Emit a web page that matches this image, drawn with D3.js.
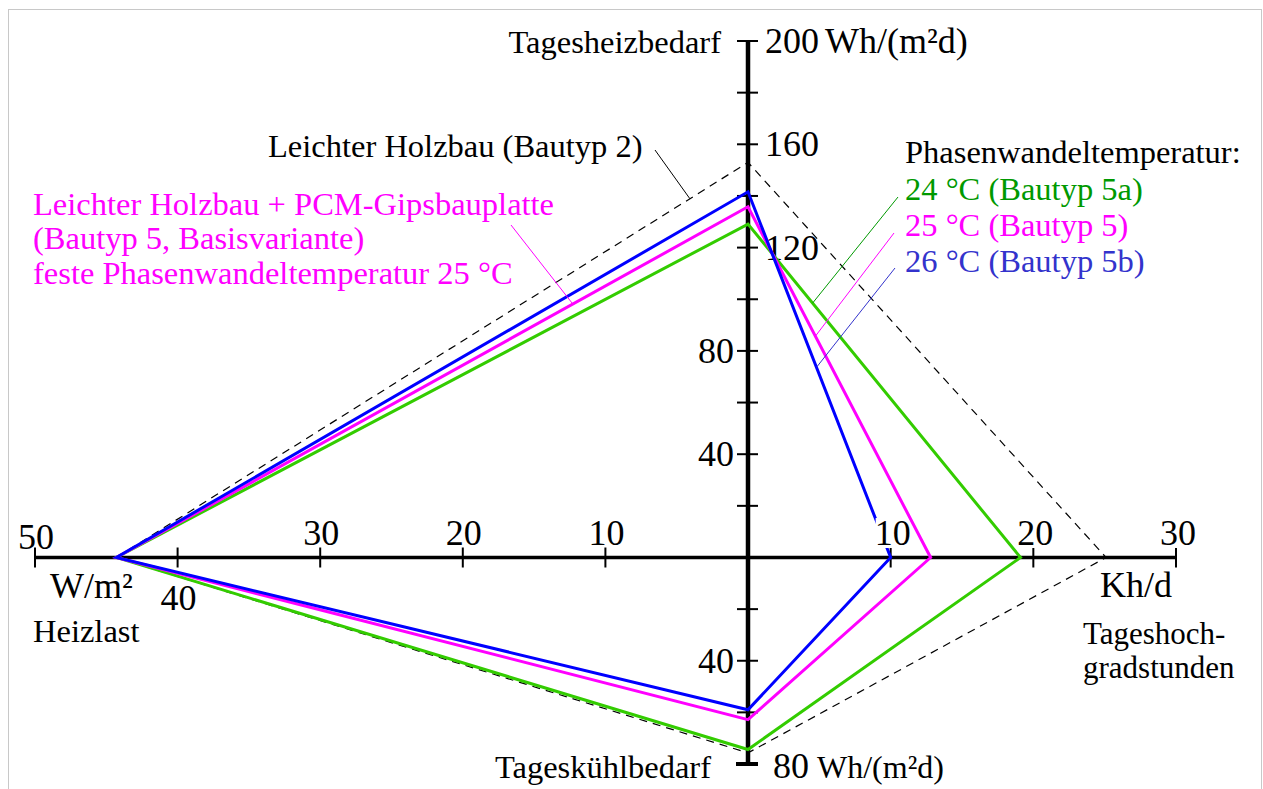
<!DOCTYPE html>
<html>
<head>
<meta charset="utf-8">
<script src="https://cdn.jsdelivr.net/npm/d3@7"></script>
<style>
  body { margin: 0; background: #fff; }
  svg { display: block; }
</style>
</head>
<body>
<script>
// four arms: Heizlast (left), Tagesheizbedarf (up), Tageshochgradstunden (right), Tageskühlbedarf (down)
var series = ['Leichter Holzbau (Bautyp 2)', '24 °C (Bautyp 5a)', '25 °C (Bautyp 5)', '26 °C (Bautyp 5b)'];
var heizlast = [44.3, 44.3, 44.3, 44.3];            // W/m²
var tagesheizbedarf = [153, 129.1, 135.8, 141.6];    // Wh/(m²d)
var hochgradstunden = [25.1, 19.1, 12.8, 10.0];      // Kh/d
var tageskuehlbedarf = [75.7, 74.4, 62.8, 59.0];     // Wh/(m²d)
var lineColors = ['#000000', '#33cc00', '#ff00ff', '#0000ff'];
var textColors = ['#000000', '#009900', '#ff00ff', '#3333cc'];

var leftTicks = [10, 20, 30, 40, 50];
var rightTicks = [10, 20, 30];
var upTicks = [20, 40, 60, 80, 100, 120, 140, 160, 180, 200];
var upLabels = [40, 80, 120, 160, 200];
var downTicks = [20, 40, 60, 80];
var downLabels = [40, 80];

var serif = '"Liberation Serif", "Times New Roman", serif';

// centre of the cross and one scale per arm
var cx = 748, cy = 557.5;
var xLeft = d3.scaleLinear().domain([0, 50]).range([cx, 35]);
var xRight = d3.scaleLinear().domain([0, 30]).range([cx, 1176]);
var yUp = d3.scaleLinear().domain([0, 200]).range([cy, 41]);
var yDown = d3.scaleLinear().domain([0, 80]).range([cy, 764]);

var svg = d3.select('body').append('svg')
    .attr('width', 1263)
    .attr('height', 789)
    .style('font-family', serif);

svg.append('rect')
    .attr('x', 8.5).attr('y', 9.5)
    .attr('width', 1253).attr('height', 800)
    .attr('fill', 'none')
    .attr('stroke', '#c8c8c8');

function pts(i) {
    return [[xLeft(heizlast[i]), cy], [cx, yUp(tagesheizbedarf[i])],
            [xRight(hochgradstunden[i]), cy], [cx, yDown(tageskuehlbedarf[i])]];
}
// point at fraction t between corner a and corner a+1 of a series
function along(i, a, t) {
    var p = pts(i), p0 = p[a], p1 = p[(a + 1) % 4];
    return [p0[0] + (p1[0] - p0[0]) * t, p0[1] + (p1[1] - p0[1]) * t];
}

// axes
var ax = svg.append('g').attr('stroke', '#000');
ax.append('line')
    .attr('x1', xLeft(50)).attr('x2', xRight(30))
    .attr('y1', cy).attr('y2', cy)
    .attr('stroke-width', 3.5);
ax.append('line')
    .attr('x1', cx).attr('x2', cx)
    .attr('y1', yUp(200)).attr('y2', yDown(80))
    .attr('stroke-width', 4.5);

ax.selectAll('.hl').data(leftTicks.map(xLeft).concat(rightTicks.map(xRight)))
  .enter().append('line')
    .attr('x1', d => d).attr('x2', d => d)
    .attr('y1', cy - 10).attr('y2', cy + 10)
    .attr('stroke-width', 2);
ax.selectAll('.vu').data(upTicks.map(yUp).concat(downTicks.map(yDown)))
  .enter().append('line')
    .attr('x1', cx - 11).attr('x2', cx + 10)
    .attr('y1', d => d).attr('y2', d => d)
    .attr('stroke-width', 2);
ax.append('line')
    .attr('x1', cx - 12).attr('x2', cx + 10)
    .attr('y1', yDown(80)).attr('y2', yDown(80))
    .attr('stroke-width', 4);

// tick labels
var nums = svg.append('g').attr('font-size', '36px').attr('fill', '#000');
nums.selectAll('.lt').data(leftTicks).enter().append('text')
    .attr('x', d => xLeft(d) + 1)
    .attr('y', d => d === 40 ? 610 : (d === 50 ? 549 : 545))
    .attr('text-anchor', 'middle')
    .text(d => d);
nums.selectAll('.ut').data(upLabels).enter().append('text')
    .attr('x', d => d <= 80 ? cx - 14 : cx + 17)
    .attr('y', d => yUp(d) + 12)
    .attr('text-anchor', d => d <= 80 ? 'end' : 'start')
    .text(d => d)
  .filter(d => d === 200).append('tspan')
    .attr('dx', 6)
    .text('Wh/(m²d)');
nums.selectAll('.dt').data(downLabels).enter().append('text')
    .attr('x', d => d === 40 ? cx - 14 : cx + 25)
    .attr('y', d => d === 40 ? yDown(d) + 12 : yDown(d) + 14)
    .attr('text-anchor', d => d === 40 ? 'end' : 'start')
    .text(d => d)
  .filter(d => d === 80).append('tspan')
    .attr('dx', 8)
    .attr('font-size', '32px')
    .text('Wh/(m²d)');

// series polygons, dashed reference first
var line = d3.line().curve(d3.curveLinearClosed);
svg.append('g').selectAll('path').data(series).enter().append('path')
    .attr('d', (d, i) => line(pts(i)))
    .attr('fill', 'none')
    .attr('stroke', (d, i) => lineColors[i])
    .attr('stroke-width', (d, i) => i === 0 ? 1.2 : 3)
    .attr('stroke-dasharray', (d, i) => i === 0 ? '8,6' : null)
    .attr('stroke-linejoin', 'miter');

// right tick labels sit on a white box (it cuts the blue line)
var rl = svg.append('g').attr('font-size', '36px');
rightTicks.forEach(function (v) {
    var t = rl.append('text')
        .attr('x', xRight(v) + 2)
        .attr('y', 545)
        .attr('text-anchor', 'middle')
        .text(v);
    var b = t.node().getBBox();
    rl.insert('rect', 'text')
        .attr('x', b.x + 1).attr('y', 518)
        .attr('width', b.width - 6).attr('height', 30)
        .attr('fill', '#fff');
});

// axis names and units
var lab = svg.append('g').attr('font-size', '32.5px').attr('fill', '#000');
lab.append('text').attr('x', 721).attr('y', 53).attr('text-anchor', 'end').text('Tagesheizbedarf');
lab.append('text').attr('x', 711).attr('y', 778).attr('text-anchor', 'end').text('Tageskühlbedarf');
lab.append('text').attr('x', 50).attr('y', 598).attr('font-size', '36px').text('W/m²');
lab.append('text').attr('x', 33).attr('y', 642).text('Heizlast');
lab.append('text').attr('x', 1100).attr('y', 597).attr('font-size', '36px').text('Kh/d');
lab.append('text').attr('x', 1083).attr('y', 644).attr('font-size', '31px').text('Tageshoch-');
lab.append('text').attr('x', 1083).attr('y', 678).attr('font-size', '31px').text('gradstunden');

// annotations
lab.append('text').attr('x', 268).attr('y', 157).text(series[0]);
var p = along(0, 0, 0.908);
lab.append('line')
    .attr('x1', 655).attr('y1', 150).attr('x2', p[0]).attr('y2', p[1])
    .attr('stroke', '#000').attr('stroke-width', 1);

var pcm = ['Leichter Holzbau + PCM-Gipsbauplatte', '(Bautyp 5, Basisvariante)', 'feste Phasenwandeltemperatur 25 °C'];
lab.selectAll('.pcm').data(pcm).enter().append('text')
    .attr('x', 33)
    .attr('y', (d, i) => [215, 249, 284][i])
    .attr('fill', '#ff00ff')
    .text(d => d);
p = along(2, 0, 0.7227);
lab.append('line')
    .attr('x1', 511).attr('y1', 225).attr('x2', p[0]).attr('y2', p[1])
    .attr('stroke', '#ff00ff').attr('stroke-width', 1);

lab.append('text').attr('x', 905).attr('y', 163).text('Phasenwandeltemperatur:');
var legY = [200, 236, 272];
var legStart = [[898, 197], [894, 233], [895, 268]];
var legT = [0.237, 0.369, 0.48];
[1, 2, 3].forEach(function (i, k) {
    lab.append('text')
        .attr('x', 905).attr('y', legY[k])
        .attr('fill', textColors[i])
        .text(series[i]);
    var q = along(i, 1, legT[k]);
    lab.append('line')
        .attr('x1', legStart[k][0]).attr('y1', legStart[k][1])
        .attr('x2', q[0]).attr('y2', q[1])
        .attr('stroke', textColors[i]).attr('stroke-width', 1);
});
</script>
</body>
</html>
